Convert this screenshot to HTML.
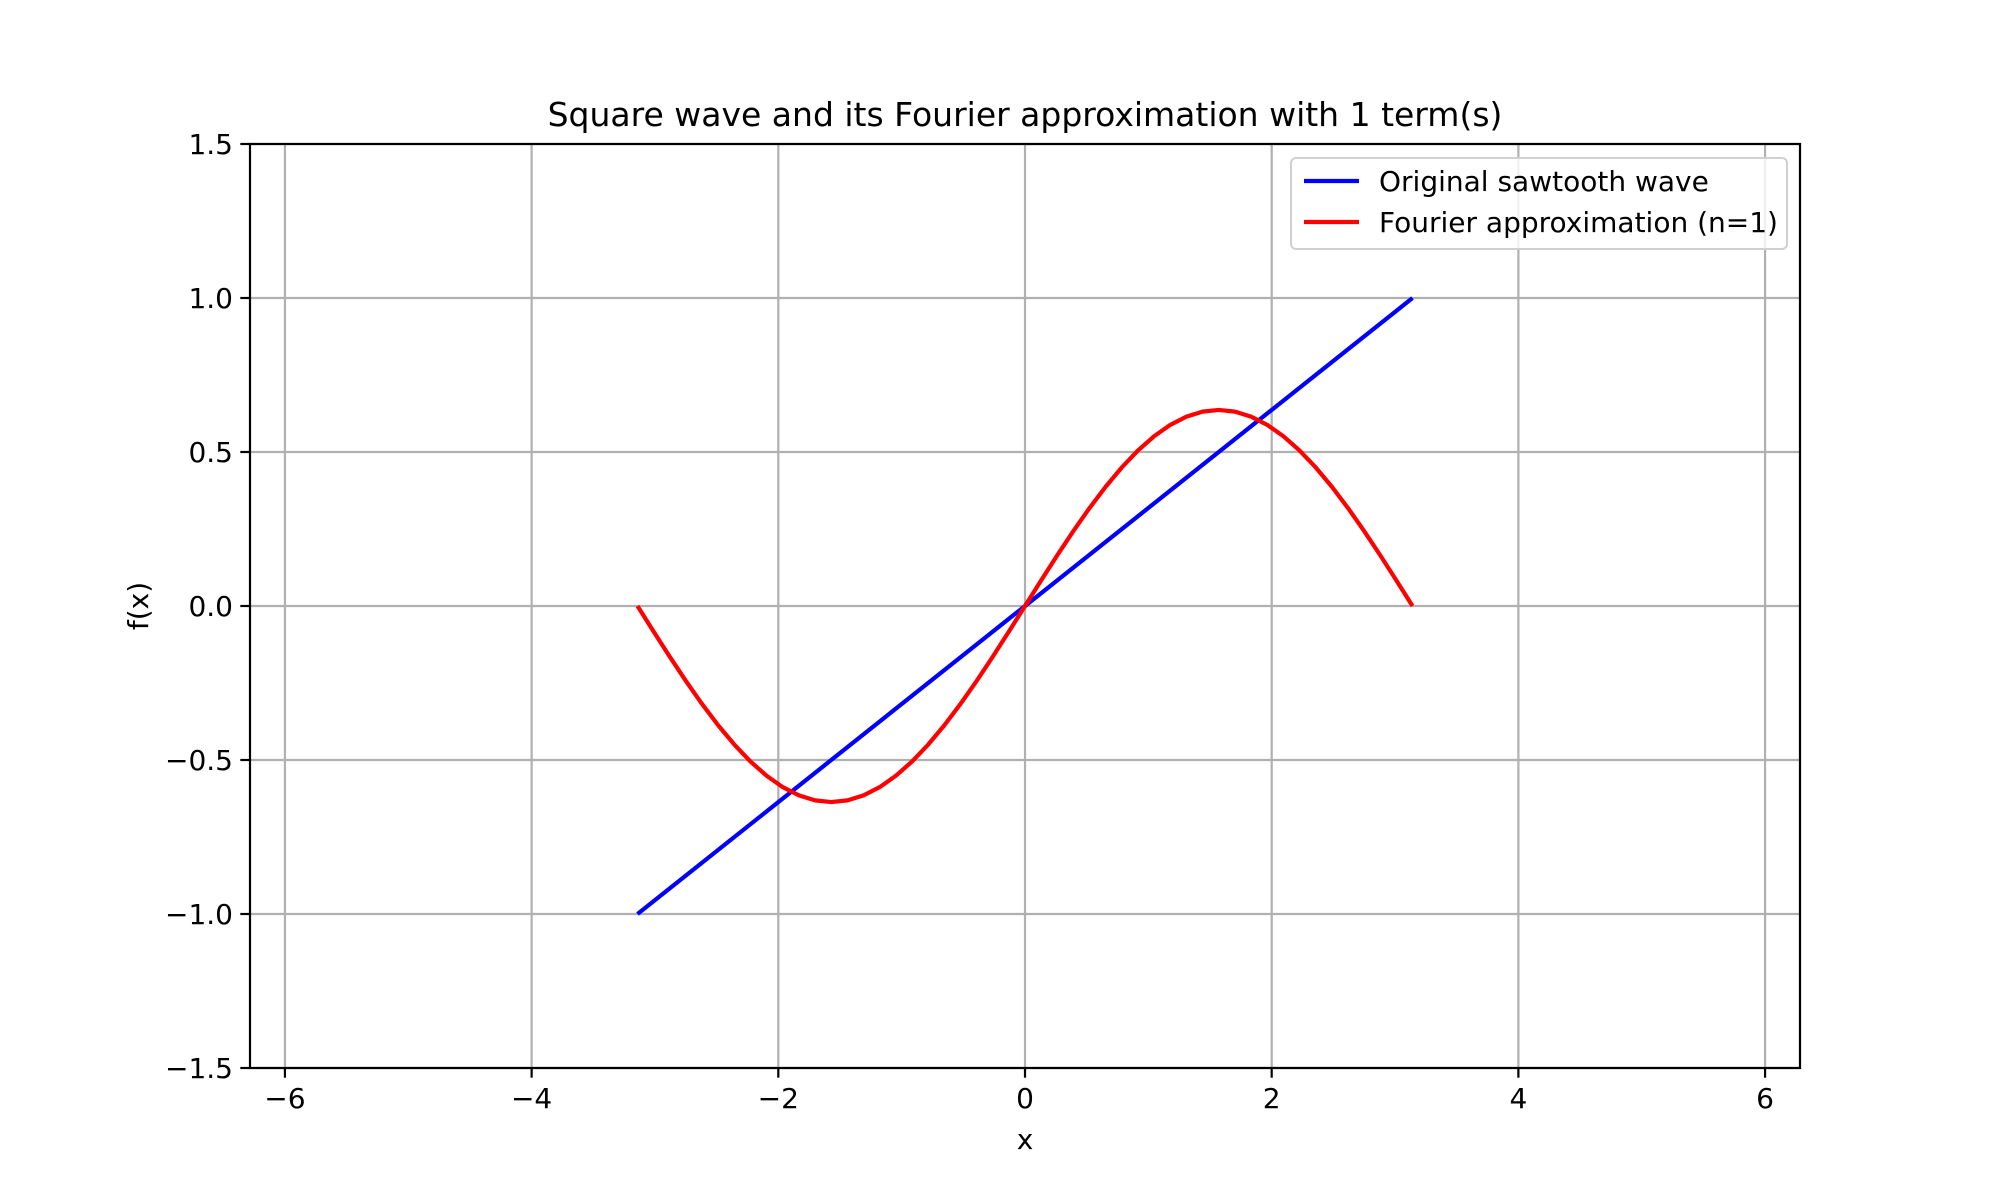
<!DOCTYPE html>
<html><head><meta charset="utf-8"><style>
html,body{margin:0;padding:0;background:#fff;width:2000px;height:1200px;overflow:hidden}
text{font-family:"DejaVu Sans","Liberation Sans",sans-serif;fill:#000}
</style></head><body>
<svg id="chart" width="2000" height="1200" viewBox="0 0 2000 1200" xmlns="http://www.w3.org/2000/svg">
<rect width="2000" height="1200" fill="#fff"/>
<g id="grid"></g>
<g id="series"></g>
<rect x="250" y="144" width="1550" height="924" fill="none" stroke="#000" stroke-width="2.2"/>
<g id="ticks"></g>
<text x="1025" y="126" font-size="33" text-anchor="middle">Square wave and its Fourier approximation with 1 term(s)</text>
<text x="1025" y="1149" font-size="28" text-anchor="middle">x</text>
<text x="148" y="606" font-size="28" text-anchor="middle" transform="rotate(-90 148 606)">f(x)</text>
<g>
<rect x="1291" y="158" width="496" height="91" rx="5" fill="#fff" fill-opacity="0.8" stroke="#d0d0d0" stroke-width="2"/>
<line x1="1304" y1="181" x2="1359" y2="181" stroke="#0000ff" stroke-width="4.2"/>
<text x="1379" y="191" font-size="28">Original sawtooth wave</text>
<line x1="1304" y1="222" x2="1359" y2="222" stroke="#ff0000" stroke-width="4.2"/>
<text x="1379" y="232" font-size="28">Fourier approximation (n=1)</text>
</g>
</svg>
<script>
const xTicks = [-6,-4,-2,0,2,4,6];
const xTickLabels = ["\u22126","\u22124","\u22122","0","2","4","6"];
const yTicks = [-1.5,-1.0,-0.5,0.0,0.5,1.0,1.5];
const yTickLabels = ["\u22121.5","\u22121.0","\u22120.5","0.0","0.5","1.0","1.5"];
const sawX = [-3.1416, 3.1416];
const sawY = [-1.0, 1.0];
const fourierX = [-3.1416,-3.0107,-2.8798,-2.7489,-2.6180,-2.4871,-2.3562,-2.2253,-2.0944,-1.9635,-1.8326,-1.7017,-1.5708,-1.4399,-1.3090,-1.1781,-1.0472,-0.9163,-0.7854,-0.6545,-0.5236,-0.3927,-0.2618,-0.1309,0,0.1309,0.2618,0.3927,0.5236,0.6545,0.7854,0.9163,1.0472,1.1781,1.3090,1.4399,1.5708,1.7017,1.8326,1.9635,2.0944,2.2253,2.3562,2.4871,2.6180,2.7489,2.8798,3.0107,3.1416];
const fourierY = [0,-0.0831,-0.1648,-0.2436,-0.3183,-0.3876,-0.4502,-0.5051,-0.5513,-0.5882,-0.6149,-0.6311,-0.6366,-0.6311,-0.6149,-0.5882,-0.5513,-0.5051,-0.4502,-0.3876,-0.3183,-0.2436,-0.1648,-0.0831,0,0.0831,0.1648,0.2436,0.3183,0.3876,0.4502,0.5051,0.5513,0.5882,0.6149,0.6311,0.6366,0.6311,0.6149,0.5882,0.5513,0.5051,0.4502,0.3876,0.3183,0.2436,0.1648,0.0831,0];

const L=250,R=1800,T=144,B=1068,XMIN=-6.2832,XMAX=6.2832,YMIN=-1.5,YMAX=1.5;
function sx(v){return L+(v-XMIN)/(XMAX-XMIN)*(R-L);}
function sy(v){return B-(v-YMIN)/(YMAX-YMIN)*(B-T);}
const NS="http://www.w3.org/2000/svg";
function mk(tag,attrs,parent){const e=document.createElementNS(NS,tag);for(const k in attrs)e.setAttribute(k,attrs[k]);parent.appendChild(e);return e;}
const grid=document.getElementById('grid'),ticks=document.getElementById('ticks'),series=document.getElementById('series');
xTicks.forEach((v,i)=>{
  const x=sx(v);
  const g=mk('line',{x1:x,y1:T,x2:x,y2:B,stroke:'#b0b0b0','stroke-width':2.2},grid);
  
  
  const t=mk('line',{x1:x,y1:B,x2:x,y2:B+9.7,stroke:'#000','stroke-width':2.2},ticks);
  
  
  const l=mk('text',{x:x,y:B+40,'font-size':28,'text-anchor':'middle'},ticks);
  l.textContent=xTickLabels[i];
  
  
});
yTicks.forEach((v,i)=>{
  const y=sy(v);
  const g=mk('line',{x1:L,y1:y,x2:R,y2:y,stroke:'#b0b0b0','stroke-width':2.2},grid);
  
  
  const t=mk('line',{x1:L-9.7,y1:y,x2:L,y2:y,stroke:'#000','stroke-width':2.2},ticks);
  
  
  const l=mk('text',{x:L-17,y:y+10,'font-size':28,'text-anchor':'end'},ticks);
  l.textContent=yTickLabels[i];
  
  
});
function pts(xs,ys){return xs.map((x,i)=>sx(x).toFixed(2)+','+sy(ys[i]).toFixed(2)).join(' ');}
const s1=mk('polyline',{points:pts(sawX,sawY),fill:'none',stroke:'#0000ff','stroke-width':4.2,'stroke-linejoin':'round'},series);


const s2=mk('polyline',{points:pts(fourierX,fourierY),fill:'none',stroke:'#ff0000','stroke-width':4.2,'stroke-linejoin':'round'},series);


</script>
</body></html>
